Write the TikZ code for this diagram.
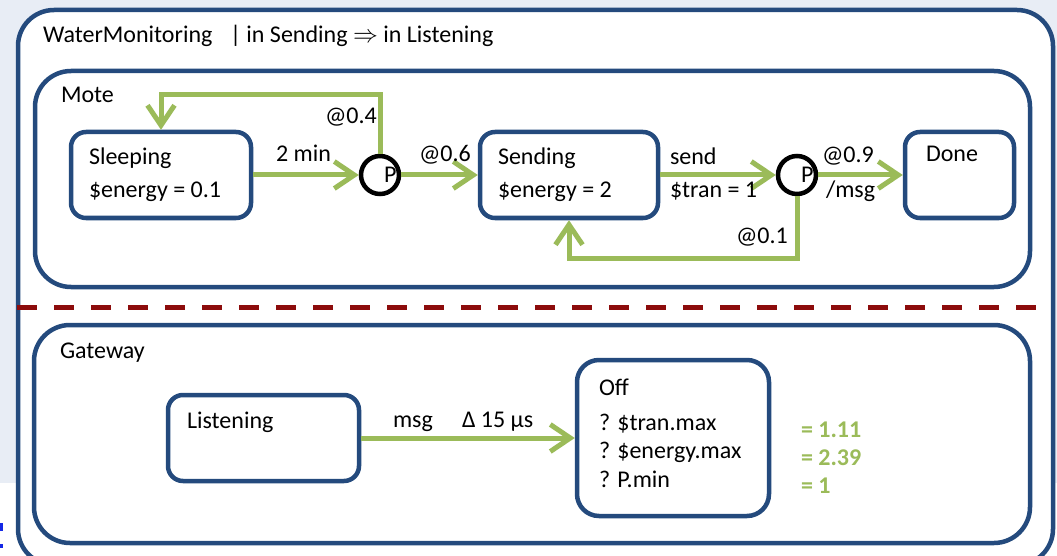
\documentclass[tikz,border=0pt]{standalone}
\usepackage{fontspec}
\setmainfont{Carlito}
\usetikzlibrary{arrows.meta}
\definecolor{framebl}{RGB}{36,74,125}
\definecolor{flowgr}{RGB}{155,187,89}
\definecolor{divred}{RGB}{140,12,12}
\definecolor{pagebg}{RGB}{232,237,245}
\definecolor{linkbl}{RGB}{20,40,230}

\begin{document}
\begin{tikzpicture}[x=1pt,y=-1pt,
  font=\fontsize{24}{28}\selectfont,
  region/.style={draw=framebl, line width=4.5pt, fill=white, rectangle,
    rounded corners=36pt, inner sep=0pt, outer sep=2.25pt},
  statebox/.style={draw=framebl, line width=4.5pt, fill=white, rectangle,
    rounded corners=15pt, inner sep=0pt, outer sep=2.25pt},
  choice/.style={draw=black, line width=4.5pt, circle, minimum size=38pt,
    inner sep=0pt, outer sep=2.25pt},
  txt/.style={anchor=base west, inner sep=0pt, outer sep=0pt},
  result/.style={txt, text=flowgr, font=\fontsize{24}{28}\selectfont\bfseries},
  flow/.style={draw=flowgr, line width=5pt,
    -{Straight Barb[length=20pt,width=27pt]}},
]
\useasboundingbox (0,0) rectangle (1057,556);
\clip (0,0) rectangle (1057,556);

% page background
\fill[white] (0,0) rectangle (1057,556);
\fill[pagebg] (0,0) rectangle (1057,483);
\fill[linkbl] (0,523) rectangle (2.5,531);
\fill[linkbl] (0,544) rectangle (2.5,548);

% containers
\node[region, minimum width=1035pt, minimum height=555pt] (system) at (535.5,287.5) {};
\node[region, minimum width=995pt, minimum height=216pt] (mote) at (532.5,179) {};
\node[region, minimum width=996pt, minimum height=218pt] (gateway) at (532,434) {};

\node[txt] (systitle) at (43,43) {WaterMonitoring};
\node[txt] (sysprop) at (230,43) {| in Sending $\Rightarrow$ in Listening};
\node[txt] (motetitle) at (61,103) {Mote};
\node[txt] (gwtitle) at (60,358) {Gateway};

% partition between the two components
\draw[divred, line width=5pt, dash pattern=on 20pt off 17pt] (17,307) -- (1043,307);

% Mote states
\node[statebox, minimum width=180pt, minimum height=86pt] (sleeping) at (161,175) {};
\node[statebox, minimum width=178pt, minimum height=86pt] (sending) at (569,175) {};
\node[statebox, minimum width=109pt, minimum height=86pt] (done) at (959.5,175) {};
\node[choice] (p1) at (380,175) {};
\node[choice] (p2) at (797,175) {};

\node[txt] (sleepname) at (89,165) {Sleeping};
\node[txt] (sleepenergy) at (89,197) {\$energy = 0.1};
\node[txt] (sendname) at (498,165) {Sending};
\node[txt] (sendenergy) at (498,197) {\$energy = 2};
\node[txt] (donename) at (926,162) {Done};
\node[txt] (p1name) at (384,183) {P};
\node[txt] (p2name) at (801,183) {P};

% Mote transitions
\coordinate (topway) at (270,95);
\coordinate (botway) at (680,258);
\draw[flow] (sleeping.east) -- (p1.west);
\draw[flow] (p1.east) -- (sending.west);
\draw[flow] (p1.north) |- (topway) -| (sleeping.north);
\draw[flow] (sending.east) -- (p2.west);
\draw[flow] (p2.east) -- (done.west);
\draw[flow] (p2.south) |- (botway) -| (sending.south);

\node[txt] (lbltimer) at (276,162) {2 min};
\node[txt] (lblback) at (325,124) {@0.4};
\node[txt] (lblgo) at (419,162) {@0.6};
\node[txt] (lblsend) at (670,165) {send};
\node[txt] (lbltran) at (670,198) {\$tran = 1};
\node[txt] (lblok) at (822,163) {@0.9};
\node[txt] (lblmsg) at (826,197) {/msg};
\node[txt] (lblretry) at (736,243) {@0.1};

% Gateway states
\node[statebox, minimum width=191pt, minimum height=86pt] (listening) at (263.5,438) {};
\node[statebox, rounded corners=22pt, minimum width=192pt, minimum height=156pt] (off) at (673,438) {};
\node[txt] (listenname) at (187,428) {Listening};
\node[txt] (offname) at (599,395) {Off};
\node[txt] (q1) at (599,430) {? \$tran.max};
\node[txt] (q2) at (599,458) {? \$energy.max};
\node[txt] (q3) at (599,487) {? P.min};

\draw[flow] (listening.east) -- (off.west);
\node[txt] (lblrecv) at (393,427) {msg};
\node[txt] (lbldelay) at (462,427) {Δ 15 µs};

% query results
\node[result] (r1) at (801,437) {= 1.11};
\node[result] (r2) at (801,465) {= 2.39};
\node[result] (r3) at (801,493) {= 1};
\end{tikzpicture}
\end{document}
